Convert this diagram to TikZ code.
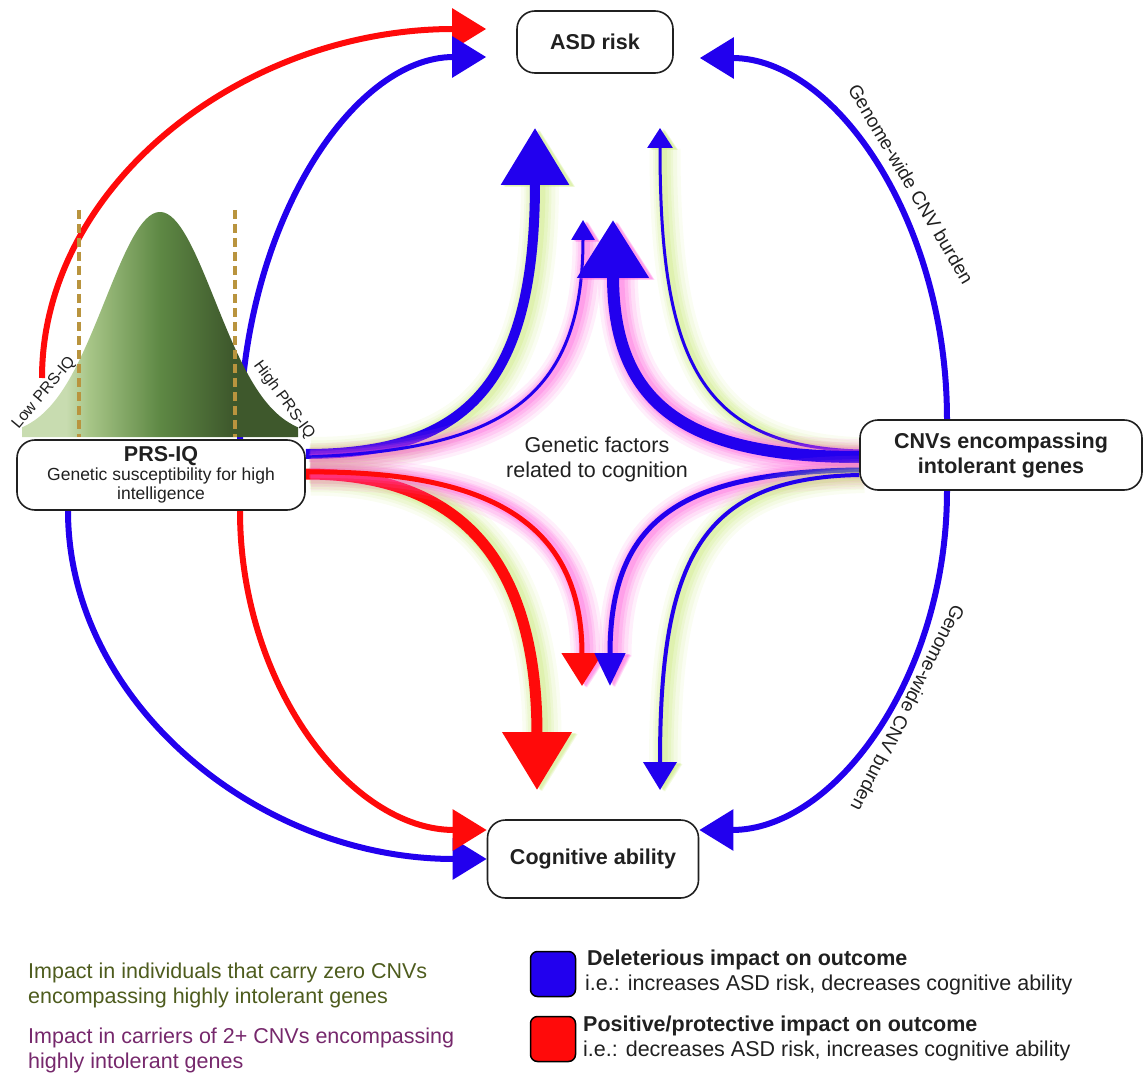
\documentclass[tikz,border=0pt]{standalone}
\usepackage{fontspec}
\setmainfont{Liberation Sans}
\usetikzlibrary{arrows.meta,backgrounds}

\definecolor{delblue}{RGB}{34,0,238}
\definecolor{prored}{RGB}{255,10,10}
\definecolor{zeroglow}{RGB}{196,230,110}
\definecolor{pairglow}{RGB}{255,80,215}
\definecolor{bellA}{RGB}{200,220,176}
\definecolor{bellB}{RGB}{168,198,136}
\definecolor{bellC}{RGB}{94,136,68}
\definecolor{bellD}{RGB}{62,88,44}
\definecolor{cutline}{RGB}{185,148,62}
\definecolor{inkgray}{RGB}{32,32,32}
\definecolor{zeroink}{RGB}{78,92,30}
\definecolor{pairink}{RGB}{118,40,108}

\pgfdeclarehorizontalshading{bellfill}{100bp}{color(0bp)=(bellA); color(33bp)=(bellA); color(37bp)=(bellB); color(50bp)=(bellC); color(63bp)=(bellD); color(100bp)=(bellD)}

\begin{document}
\begin{tikzpicture}[x=1pt, y=-1pt,
	outcome/.style={draw=inkgray, line width=1.6pt, rounded corners=18pt, fill=white, text=inkgray, align=center},
	heading/.style={font=\fontsize{21.5}{25}\selectfont\bfseries, text=inkgray},
	plain/.style={font=\fontsize{21.5}{25}\selectfont, text=inkgray},
	burden/.style={font=\fontsize{19}{22}\selectfont, text=inkgray},
	tail label/.style={font=\fontsize{16}{18}\selectfont, text=inkgray},
	legend note/.style={plain, anchor=west, align=left, inner sep=0pt},
	keybox/.style={draw=black, line width=1.5pt, rounded corners=7pt, minimum size=45pt},
	halo/.style 2 args={
		preaction={draw=#1, opacity=.09, line width=#2+28pt, transform canvas={shift={(5,2)}}},
		preaction={draw=#1, opacity=.11, line width=#2+21pt, transform canvas={shift={(5,2)}}},
		preaction={draw=#1, opacity=.14, line width=#2+15pt, transform canvas={shift={(4,2)}}},
		preaction={draw=#1, opacity=.17, line width=#2+10pt, transform canvas={shift={(4,1)}}},
		preaction={draw=#1, opacity=.22, line width=#2+5pt, transform canvas={shift={(3,1)}}}},
	zero glow/.style={halo={zeroglow}{#1}, line width=#1},
	pair glow/.style={halo={pairglow}{#1}, line width=#1},
	headsize/.style 2 args={-{Triangle[length=#1, width=#2]}},
	outer/.style={line width=6pt, headsize={34pt}{40pt}}
]

	\useasboundingbox (0,0) rectangle (1144,1078);

	\node[outcome, heading, minimum width=156pt, minimum height=62pt] (asd) at (595,42) {ASD risk};
	\node[outcome, heading, minimum width=211pt, minimum height=78pt] (cog) at (593,859) {Cognitive ability};
	\node[outcome, font=\fontsize{17.5}{19}\selectfont, minimum width=288pt, minimum height=70pt] (prs) at (161,475)
		{{\fontsize{21.5}{22}\selectfont\bfseries PRS-IQ}\\Genetic susceptibility for high\\intelligence};
	\node[outcome, heading, minimum width=282pt, minimum height=70pt] (cnv) at (1001,455) {CNVs encompassing\\intolerant genes};
	\node[plain, align=center] (cogfactors) at (597,459) {Genetic factors\\related to cognition};

	\coordinate (lowtail) at (42,378);
	\coordinate (up1) at (535,128);
	\coordinate (up2) at (583,220);
	\coordinate (up3) at (613,220);
	\coordinate (up4) at (660,128);
	\coordinate (dn1) at (537,790);
	\coordinate (dn2) at (582,686);
	\coordinate (dn3) at (610,686);
	\coordinate (dn4) at (660,790);

	\begin{scope}[on background layer]
		% outer arcs
		\draw[prored, outer] (lowtail) .. controls (42,186) and (242,29) .. ([xshift=-30pt,yshift=13pt]asd.west);
		\draw[delblue, outer] ([xshift=79pt]prs.north) .. controls (240,229) and (351,57) .. ([xshift=-30pt,yshift=-15pt]asd.west);
		\draw[delblue, outer] ([xshift=-93pt]prs.south) .. controls (68,701) and (257,859) .. (cog.west);
		\draw[prored, outer] ([xshift=79pt]prs.south) .. controls (240,686) and (351,830) .. ([yshift=29pt]cog.west);
		\draw[delblue, outer] ([xshift=-54pt]cnv.north) .. controls (947,221) and (835,58) .. ([xshift=26pt,yshift=-16pt]asd.east);
		\draw[delblue, outer] ([xshift=-54pt]cnv.south) .. controls (947,677) and (835,830) .. ([yshift=29pt]cog.east);

		% PRS-IQ distribution
		\shade[shading=bellfill] (22,437) -- plot[domain=22:298, samples=90]
			(\x, {437-225*exp(-0.5*((\x-160)/55)*((\x-160)/55))}) -- (298,437) -- cycle;
		\foreach \xd in {79,235}
			\draw[cutline, line width=3.2pt, dash pattern=on 9pt off 5pt] (\xd,210) -- (\xd,437);

		% inner arrows
		\draw[delblue, zero glow=10pt, headsize={57pt}{66pt}] ([yshift=21pt]prs.east) .. controls (470,454) and (535,380) .. (up1);
		\draw[delblue, pair glow=3pt, headsize={20pt}{23pt}] ([yshift=18pt]prs.east) .. controls (500,450) and (583,400) .. (up2);
		\draw[prored, zero glow=11pt, headsize={58pt}{67pt}] ([yshift=1pt]prs.east) .. controls (460,474) and (537,560) .. (dn1);
		\draw[prored, pair glow=5pt, headsize={33pt}{40pt}] ([yshift=3pt]prs.east) .. controls (500,470) and (582,530) .. (dn2);
		\draw[delblue, zero glow=3pt, headsize={20pt}{25pt}] ([yshift=4pt]cnv.west) .. controls (700,446) and (660,360) .. (up4);
		\draw[delblue, pair glow=12pt, headsize={58pt}{69pt}] ([yshift=-2pt]cnv.west) .. controls (680,457) and (613,400) .. (up3);
		\draw[delblue, pair glow=5pt, headsize={33pt}{30pt}] ([yshift=-15pt]cnv.west) .. controls (680,472) and (610,520) .. (dn3);
		\draw[delblue, zero glow=4pt, headsize={28pt}{33pt}] ([yshift=-20pt]cnv.west) .. controls (700,478) and (660,560) .. (dn4);
	\end{scope}

	\node[tail label, rotate=50] (lowlabel) at (44,393) {Low PRS-IQ};
	\node[tail label, rotate=-54] (highlabel) at (284,400) {High PRS-IQ};
	\node[burden, rotate=-59.5] (burdenup) at (911,184) {Genome-wide CNV burden};
	\node[burden, rotate=-117] (burdendown) at (908,708) {Genome-wide CNV burden};

	% legend
	\node[legend note, text=zeroink] (zeronote) at (28,985) {Impact in individuals that carry zero CNVs\\encompassing highly intolerant genes};
	\node[legend note, text=pairink] (pairnote) at (28,1050) {Impact in carriers of 2+ CNVs encompassing\\highly intolerant genes};

	\node[keybox, fill=delblue] (keydel) at (553,974) {};
	\node[keybox, fill=prored] (keypro) at (553,1039) {};
	\node[heading, anchor=west, inner sep=0pt] (deltitle) at (587,960) {Deleterious impact on outcome};
	\node[plain, anchor=west, inner sep=0pt] (deltext) at (585,985) {i.e.: increases ASD risk, decreases cognitive ability};
	\node[heading, anchor=west, inner sep=0pt] (protitle) at (583,1026) {Positive/protective impact on outcome};
	\node[plain, anchor=west, inner sep=0pt] (protext) at (583,1051) {i.e.: decreases ASD risk, increases cognitive ability};

\end{tikzpicture}
\end{document}
